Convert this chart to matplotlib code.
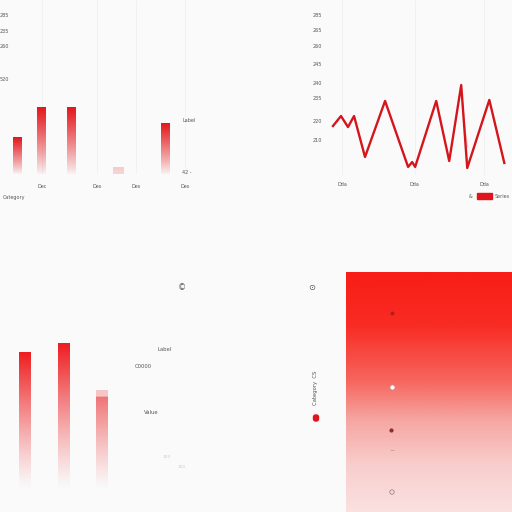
import numpy as np
import matplotlib
matplotlib.use("Agg")
import matplotlib.pyplot as plt
from matplotlib.colors import to_rgb, LinearSegmentedColormap
from matplotlib.patches import Patch, FancyBboxPatch

# ---------------- data ----------------
# top-left bar chart
tl_x = [0.25, 1.25, 2.5, 4.4, 6.4]
tl_vals = [21, 38, 38, 3.5, 29]
tl_yticks = [91.4, 82.2, 73.6, 54.6]
tl_ylabels = ["285", "235", "260", "520"]
tl_xticks = [1.25, 3.54, 5.17, 7.2]
tl_xlabels = ["Dec", "Des", "Des", "Des"]

# top-right line chart
tr_x = [-1.24, -0.14, 0.83, 1.66, 3.17, 5.93, 9.1, 9.66, 10.07, 12.97, 14.76, 16.41, 17.24, 20.28, 22.34]
tr_y = [28, 33.7, 27.4, 33.7, 10.3, 42.3, 4.6, 7.4, 4.6, 42.3, 8, 51.4, 4, 42.9, 6.9]
tr_ghost_x = [16.41, 16.7, 17.0, 17.3]
tr_ghost_y = [48.6, 36, 24, 16]
tr_yticks = [91.4, 82.9, 73.7, 63.4, 52.6, 44, 30.9, 20]
tr_ylabels = ["285", "265", "260", "245", "240", "235", "220", "210"]
tr_xticks = [0, 10, 19.6]
tr_xlabels = ["Dda", "Dda", "Dda"]

# bottom-left bar chart
bl_x = [0.65, 1.65, 2.65]
bl_vals = [65.7, 70, 44.3]
bl_cap = [0, 0, 2.9]

# bottom-right gradient panel markers
br_mx = [0.277, 0.277, 0.27, 0.277, 0.277]
br_my = [0.829, 0.521, 0.342, 0.258, 0.083]

BG = "#fafafa"
RED = "#e3161b"
TXT = "#555555"

fig = plt.figure(figsize=(5.12, 5.12), dpi=100, facecolor=BG)

def px_axes(x0, y0, x1, y1):
    return fig.add_axes([x0 / 512, 1 - y1 / 512, (x1 - x0) / 512, (y1 - y0) / 512])

def grad_bar(ax, x, h, w, color, amax=1.0, power=1.0, amin=0.0, bottom=0.0):
    n = 256
    t = np.linspace(0, 1, n)
    a = amin + (amax - amin) * t ** power
    rgba = np.zeros((n, 1, 4))
    rgba[..., :3] = to_rgb(color)
    rgba[:, 0, 3] = a
    ax.imshow(rgba, extent=[x - w / 2, x + w / 2, bottom, bottom + h], origin="lower",
              aspect="auto", interpolation="bilinear", zorder=3)

def clean(ax):
    ax.set_facecolor("none")
    for s in ax.spines.values():
        s.set_visible(False)

# ---------------- top-left ----------------
ax1 = px_axes(12, 0, 256, 174)
clean(ax1)
for i, (x, v) in enumerate(zip(tl_x, tl_vals)):
    if v < 5:
        grad_bar(ax1, x, v, 0.42, "#f1a8aa", amax=0.55, amin=0.45)
    else:
        grad_bar(ax1, x, v, 0.375, RED, amax=1.0, power=0.9, amin=0.03)
ax1.set_xlim(0, 10.17)
ax1.set_ylim(0, 100)
ax1.set_yticks(tl_yticks, tl_ylabels)
ax1.set_xticks(tl_xticks, tl_xlabels)
ax1.tick_params(length=0, labelsize=3.5, labelcolor=TXT, pad=2)
ax1.tick_params(axis="x", pad=7)
ax1.grid(axis="x", color="#f0f0f0", lw=0.6)
ax1.text(7.1, 31, "Label", fontsize=3.5, color=TXT, va="center")
ax1.text(7.1, 1, "42 -", fontsize=3.5, color=TXT, va="center")
fig.text(3 / 512, 1 - 197 / 512, "Category", fontsize=3.5, color=TXT, va="center")

# ---------------- top-right ----------------
ax2 = px_axes(326, 0, 512, 175)
clean(ax2)
ax2.plot(tr_ghost_x, tr_ghost_y, color="#f2c6c8", lw=1.0, zorder=2)
ax2.plot(tr_x, tr_y, color="#d4161c", lw=1.7, solid_joinstyle="round", zorder=3)
ax2.set_xlim(-2.2, 23.4)
ax2.set_ylim(0, 100)
ax2.set_yticks(tr_yticks, tr_ylabels)
ax2.set_xticks(tr_xticks, tr_xlabels)
ax2.tick_params(length=0, labelsize=3.5, labelcolor=TXT, pad=3)
ax2.tick_params(axis="x", pad=5)
ax2.grid(axis="x", color="#f0f0f0", lw=0.6)
leg = ax2.legend(handles=[Patch(facecolor="#e0141a", edgecolor="#e0141a")], labels=["Series"],
                 loc="center right", bbox_to_anchor=(1.0, -0.12), frameon=False,
                 fontsize=3.5, handlelength=3.0, handleheight=1.4, handletextpad=0.6,
                 borderaxespad=0)
for t in leg.get_texts():
    t.set_color(TXT)
fig.text(471 / 512, 1 - 196 / 512, "&", fontsize=3.5, color=TXT, va="center", ha="center")

# ---------------- bottom-left ----------------
ax3 = px_axes(0, 280, 300, 490)
clean(ax3)
ax3.set_xticks([]); ax3.set_yticks([])
for x, v, c in zip(bl_x, bl_vals, bl_cap):
    if c > 0:
        grad_bar(ax3, x, v, 0.31, "#ee5a5c", amax=0.85, power=1.2, amin=0.0)
        grad_bar(ax3, x, c, 0.31, "#f5b9bb", amax=0.8, amin=0.8, bottom=v)
    else:
        grad_bar(ax3, x, v, 0.31, "#ee1c1f", amax=1.0, power=1.2, amin=0.0)
ax3.set_xlim(0, 7.8)
ax3.set_ylim(0, 100)
ax3.text(4.29, 66.7, "Label", fontsize=3.8, color=TXT, ha="center", va="center")
ax3.text(3.72, 59, "C0000", fontsize=3.8, color=TXT, ha="center", va="center")
ax3.text(3.94, 37.1, "Value", fontsize=3.8, color=TXT, ha="center", va="center")
ax3.text(4.34, 15.7, "100", fontsize=3.2, color="#cccccc", ha="center", va="center")
ax3.text(4.73, 11, "100", fontsize=3.2, color="#cccccc", ha="center", va="center")

fig.text(182 / 512, 1 - 288 / 512, "©", fontsize=6, color="#555555", ha="center", va="center")
fig.text(312 / 512, 1 - 288 / 512, "⊙", fontsize=6, color="#555555", ha="center", va="center")
fig.text(316 / 512, 1 - 388 / 512, "Category  CS", fontsize=3.8, color=TXT, rotation=90,
         ha="center", va="center")
fig.patches.append(FancyBboxPatch((313.5 / 512, 1 - 421 / 512), 5 / 512, 6 / 512,
                                  boxstyle="round,pad=0,rounding_size=0.004",
                                  color="#e0141a", transform=fig.transFigure, figure=fig))

# ---------------- bottom-right ----------------
ax4 = px_axes(346, 272, 512, 512)
ax4.set_axis_off()
cmap = LinearSegmentedColormap.from_list("rg", [
    (0.0, "#f81d16"), (0.22, "#f82c24"), (0.45, "#f6655d"),
    (0.62, "#f6a7a3"), (0.8, "#f8cdcb"), (1.0, "#fbe1e1")])
grad = np.linspace(0, 1, 256)[:, None]
ax4.imshow(grad, extent=[0, 1, 0, 1], origin="upper", cmap=cmap, aspect="auto",
           interpolation="bilinear")
ax4.scatter(br_mx[0], br_my[0], s=3, color="#a5221f", zorder=5)
ax4.scatter(br_mx[1], br_my[1], s=14, facecolor="white", edgecolor="#d08080", lw=0.6, zorder=5)
ax4.scatter(br_mx[2], br_my[2], s=4, color="#8a3030", zorder=5)
ax4.scatter(br_mx[3], br_my[3], s=12, marker="_", color="#c0a0a0", lw=0.6, zorder=5)
ax4.scatter(br_mx[4], br_my[4], s=10, facecolor="none", edgecolor="#a08888", lw=0.6, zorder=5)
ax4.set_xlim(0, 1)
ax4.set_ylim(0, 1)

fig.savefig("out.png", dpi=100, facecolor=BG)
